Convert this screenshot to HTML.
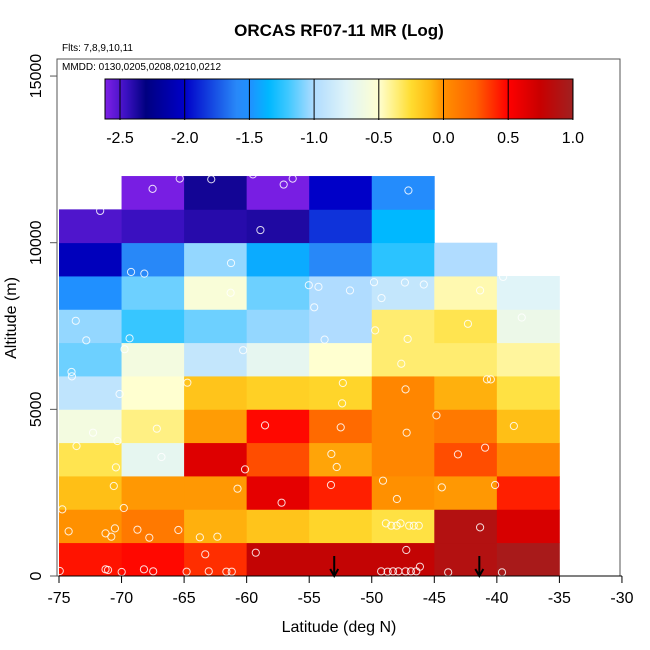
<!DOCTYPE html>
<html><head><meta charset="utf-8"><style>
html,body{margin:0;padding:0;background:#fff;}
svg{display:block;font-family:"Liberation Sans",sans-serif;}
</style></head><body>
<svg id="chart" width="650" height="650" viewBox="0 0 650 650" xmlns="http://www.w3.org/2000/svg">
<g id="cells"></g>
<g id="pts"></g>
<g id="axes"></g>
<g id="cbar"></g>
<text x="339" y="36" text-anchor="middle" font-size="17" font-weight="bold">ORCAS RF07-11 MR (Log)</text>
<text x="62" y="51" font-size="10">Flts: 7,8,9,10,11</text>
<text x="62" y="70" font-size="10">MMDD: 0130,0205,0208,0210,0212</text>
<text x="339" y="632" text-anchor="middle" font-size="16">Latitude (deg N)</text>
<text transform="translate(16,318) rotate(-90)" text-anchor="middle" font-size="16">Altitude (m)</text>
</svg>
<script>
const latBins = [-75,-70,-65,-60,-55,-50,-45,-40];
const altBins = [0,1000,2000,3000,4000,5000,6000,7000,8000,9000,10000,11000];
const row0  = [0.45,0.48,0.38,0.78,0.78,0.78,0.88,0.95];
const row1  = [0.0,0.12,-0.08,-0.15,-0.22,-0.28,0.88,0.68];
const row2  = [-0.13,-0.02,-0.02,0.62,0.42,0.0,-0.02,0.42];
const row3  = [-0.3,-0.7,0.65,0.3,-0.05,0.05,0.3,0.05];
const row4  = [-0.6,-0.38,-0.03,0.48,0.2,0.05,0.12,-0.13];
const row5  = [-0.92,-0.5,-0.15,-0.2,-0.22,0.05,-0.08,-0.28];
const row6  = [-1.12,-0.6,-0.9,-0.7,-0.5,-0.35,-0.35,-0.42];
const row7  = [-1.05,-1.22,-1.12,-1.05,-1.0,-0.35,-0.3,-0.65];
const row8  = [-1.5,-1.12,-0.55,-1.12,-1.0,-0.9,-0.45,-0.75];
const row9  = [-2.05,-1.6,-1.05,-1.4,-1.6,-1.25,-1.0,null];
const row10 = [-2.5,-2.45,-2.4,-2.38,-1.85,-1.35,null,null];
const row11 = [null,-2.6,-2.35,-2.6,-2.0,-1.55,null,null];
const gridRows = [row0,row1,row2,row3,row4,row5,row6,row7,row8,row9,row10,row11];
const ptLat = [-67.52,-65.35,-62.83,-57.04,-56.32,-47.07,-59.5,-71.71,-58.9,-61.25,-69.24,-68.18,-61.28,-55.03,-54.26,-51.74,-49.82,-49.22,-47.35,-45.84,-41.34,-39.5,-54.6,-73.66,-72.82,-69.36,-69.76,-60.28,-53.77,-49.73,-47.13,-42.31,-38.01,-47.64,-74.0,
 -73.97,-70.16,-64.74,-52.31,-52.37,-47.3,-40.79,-40.48,-44.83,-72.28,-70.33,-67.18,-58.53,-52.48,-47.21,-38.64,-73.6,-66.81,-70.45,-60.13,-53.23,-52.8,-43.11,-40.94,-70.62,-60.73,-53.26,-49.1,-47.99,-44.4,-40.14,-57.21,-74.74,-69.82,-74.23,-71.28,-70.82,-70.53,-68.73,-67.78,-65.46,-63.74,-62.34,-48.87,-48.44,-48.01,-47.7,-47.01,-46.64,-46.24,-41.34,-63.31,-59.27,-47.24,
 -74.94,-71.28,-71.08,-69.99,-68.21,-67.47,-64.8,-63.03,-61.62,-61.19,-49.25,-48.73,-48.3,-47.87,-47.3,-46.87,-46.44,-46.15,-43.89,-39.59];
const ptAlt = [11616,11923,11903,11745,11923,11567,12050,10953,10379,9389,9121,9072,8498,8725,8676,8567,8815,8339,8805,8745,8567,8973,8062,7656,7072,7132,6805,6775,7092,7369,7112,7567,7755,6369,6122,
 5990,5460,5800,5790,5180,5600,5900,5900,4820,4300,4050,4420,4520,4460,4300,4500,3900,3570,3260,3200,3660,3270,3650,3850,2700,2620,2730,2860,2310,2660,2730,2200,2000,2040,1340,1280,1180,1430,1390,1150,1380,1160,1180,1580,1510,1510,1580,1510,1510,1510,1460,650,700,780,
 150,200,180,120,200,140,130,140,130,130,140,130,140,140,140,140,140,280,110,110];
const cbTicks = [-2.5,-2.0,-1.5,-1.0,-0.5,0.0,0.5,1.0];
const xTicks = [-75,-70,-65,-60,-55,-50,-45,-40,-35,-30];
const yTicks = [0,5000,10000,15000];
const arrowLat = [-53,-41.4];

const NS="http://www.w3.org/2000/svg";
const X = v => 59 + (v + 75) * 12.51;
const Y = v => 576 - v * 0.03333;
const CB = v => 120 + (v + 2.5) * 129.4;
const stops = [[-2.62,'#8020e8'],[-2.45,'#3a10c0'],[-2.3,'#000080'],[-2.0,'#0000c8'],[-1.6,'#2888f8'],[-1.5,'#2090ff'],[-1.35,'#00b8ff'],[-1.2,'#40c8ff'],[-1.0,'#b0dcff'],[-0.75,'#e0f4f8'],[-0.5,'#ffffd0'],[-0.35,'#ffec70'],[-0.25,'#ffdc30'],[-0.1,'#ffb810'],[0.0,'#ff9000'],[0.25,'#ff6000'],[0.5,'#ff0000'],[0.75,'#c80000'],[1.0,'#a02020']];
function hx(c){return [1,3,5].map(i=>parseInt(c.substr(i,2),16));}
function cmap(v){
  if(v<=stops[0][0]) return stops[0][1];
  for(let i=1;i<stops.length;i++){ if(v<=stops[i][0]){
    const t=(v-stops[i-1][0])/(stops[i][0]-stops[i-1][0]);
    const a=hx(stops[i-1][1]), b=hx(stops[i][1]);
    return 'rgb('+a.map((x,k)=>Math.round(x+(b[k]-x)*t)).join(',')+')';}}
  return stops[stops.length-1][1];
}
function mk(tag,attrs,parent){const e=document.createElementNS(NS,tag);for(const k in attrs)e.setAttribute(k,attrs[k]);parent.appendChild(e);return e;}

const gc=document.getElementById('cells');
gridRows.forEach((row,ri)=>{row.forEach((v,ci)=>{ if(v===null) return;
  const x0=X(latBins[ci]), x1=X(latBins[ci]+5), y0=Y(altBins[ri]+1000), y1=Y(altBins[ri]);
  const r=mk('rect',{x:x0,y:y0,width:x1-x0+0.4,height:y1-y0+0.4,fill:cmap(v)},gc);
  
  
});});

const gp=document.getElementById('pts');
ptLat.forEach((la,i)=>{
  const c=mk('circle',{cx:X(la),cy:Y(ptAlt[i]),r:3.6,fill:'none',stroke:'#fff','stroke-width':1,'stroke-opacity':0.85},gp);
  
  
});

const ga=document.getElementById('axes');
mk('rect',{x:57,y:59,width:563,height:517,fill:'none',stroke:'#555','stroke-width':1},ga);
mk('line',{x1:X(-75),y1:576,x2:X(-30),y2:576,stroke:'#000','stroke-width':1},ga);
mk('line',{x1:57,y1:Y(0),x2:57,y2:Y(15000),stroke:'#555','stroke-width':1},ga);
xTicks.forEach(t=>{
  mk('line',{x1:X(t),y1:576,x2:X(t),y2:583,stroke:'#000'},ga);
  const tx=mk('text',{x:X(t),y:603,'text-anchor':'middle','font-size':16},ga);
  tx.textContent=t;
  
  
});
yTicks.forEach(t=>{
  mk('line',{x1:50,y1:Y(t),x2:57,y2:Y(t),stroke:'#555'},ga);
  const tx=mk('text',{transform:'translate(41,'+Y(t)+') rotate(-90)','text-anchor':'middle','font-size':16},ga);
  tx.textContent=t;
  
  
});
arrowLat.forEach(la=>{
  const g=mk('g',{},ga);
  
  
  mk('line',{x1:X(la),y1:556,x2:X(la),y2:575,stroke:'#000','stroke-width':2},g);
  mk('polyline',{points:(X(la)-4)+',569 '+X(la)+',576 '+(X(la)+4)+',569',fill:'none',stroke:'#000','stroke-width':2},g);
});

const gb=document.getElementById('cbar');
const c0=105,c1=573,cTop=79,cH=40;
for(let px=c0;px<c1;px++){
  const v=-2.5+(px+0.5-120)/129.4;
  mk('rect',{x:px,y:cTop,width:1.2,height:cH,fill:cmap(v)},gb);
}
mk('rect',{x:c0,y:cTop,width:c1-c0,height:cH,fill:'none',stroke:'#000','stroke-width':1},gb);
cbTicks.forEach(t=>{
  mk('line',{x1:CB(t),y1:cTop,x2:CB(t),y2:cTop+cH+1,stroke:'#000'},gb);
  const tx=mk('text',{x:CB(t),y:143,'text-anchor':'middle','font-size':16},gb);
  tx.textContent=t.toFixed(1);
  
  
});
</script>
</body></html>
